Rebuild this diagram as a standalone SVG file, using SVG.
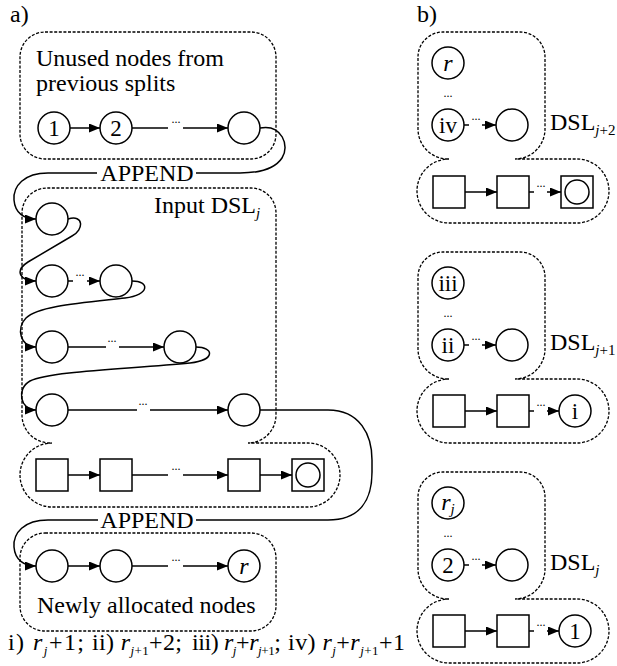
<svg xmlns="http://www.w3.org/2000/svg" width="617" height="666" viewBox="0 0 617 666">
<defs>
<marker id="arr" markerWidth="11" markerHeight="9" refX="11" refY="4.5" orient="auto" markerUnits="userSpaceOnUse"><path d="M0,0 L11,4.5 L0,9 Z" fill="#000"/></marker>
<style>
.t{font-family:"Liberation Serif","Times New Roman",serif;font-size:24px;fill:#000}
.n{fill:#fff;stroke:#000;stroke-width:1.5}
.box{fill:none;stroke:#000;stroke-width:1.3;stroke-dasharray:3 1.6}
.c{fill:none;stroke:#000;stroke-width:1.5}
.a{marker-end:url(#arr)}
.d{font-family:"Liberation Serif","Times New Roman",serif;font-size:12px;text-anchor:middle}
.m{text-anchor:middle}
.lb{font-size:23px}
.i{font-style:italic}
.s{font-size:15px}
.s2{font-size:13px}
</style>
</defs>
<rect width="617" height="666" fill="#fff"/>

<g id="labels">
<text class="t" x="10" y="22">a)</text>
<text class="t" x="417" y="22">b)</text>
</g>

<g id="box-unused">
<rect class="box" x="20" y="32" width="256" height="127" rx="25"/>
<text class="t" x="36" y="66">Unused nodes from</text>
<text class="t" x="36" y="91">previous splits</text>
</g>
<g id="box-input">
<path class="box" d="M50,443 A28,28 0 0 1 22,415 V213 A25,25 0 0 1 47,188 H251 A25,25 0 0 1 276,213 V415 A28,28 0 0 1 248,443 H308 A32,32 0 0 1 340,475 A32,32 0 0 1 308,507 H52 A32,32 0 0 1 20,475 A32,32 0 0 1 52,443 Z"/>
<text class="t" x="154" y="213">Input DSL<tspan class="i s" dy="5">j</tspan></text>
</g>
<g id="box-new">
<rect class="box" x="20" y="533" width="256" height="98" rx="25"/>
<text class="t" x="37" y="613">Newly allocated nodes</text>
</g>
<g id="box-dsl-j2">
<path class="box" d="M448,159 A30,30 0 0 1 418,129 V57 A25,25 0 0 1 443,32 H520 A25,25 0 0 1 545,57 V129 A30,30 0 0 1 515,159 H577 A32,32 0 0 1 609,191 A32,32 0 0 1 577,223 H449 A32,32 0 0 1 417,191 A32,32 0 0 1 449,159 Z"/>
<text class="t" x="550" y="130">DSL<tspan class="s" dy="5"><tspan class="i">j</tspan>+2</tspan></text>
</g>
<g id="box-dsl-j1">
<path class="box" transform="translate(0,220)" d="M448,159 A30,30 0 0 1 418,129 V57 A25,25 0 0 1 443,32 H520 A25,25 0 0 1 545,57 V129 A30,30 0 0 1 515,159 H577 A32,32 0 0 1 609,191 A32,32 0 0 1 577,223 H449 A32,32 0 0 1 417,191 A32,32 0 0 1 449,159 Z"/>
<text class="t" x="550" y="350">DSL<tspan class="s" dy="5"><tspan class="i">j</tspan>+1</tspan></text>
</g>
<g id="box-dsl-j">
<path class="box" transform="translate(0,440)" d="M448,159 A30,30 0 0 1 418,129 V57 A25,25 0 0 1 443,32 H520 A25,25 0 0 1 545,57 V129 A30,30 0 0 1 515,159 H577 A32,32 0 0 1 609,191 A32,32 0 0 1 577,223 H449 A32,32 0 0 1 417,191 A32,32 0 0 1 449,159 Z"/>
<text class="t" x="550" y="570">DSL<tspan class="i s" dy="5">j</tspan></text>
</g>

<g id="connectors">
<path class="c a" d="M70,128 H100"/>
<path class="c" d="M132,128 H168"/>
<path class="c a" d="M183,128 H228"/>
<path class="c" d="M260,128 C282,124 290,146 282,158 C274,170 258,173 240,173 H196"/>
<path class="c a" d="M97,173 H48 C24,173 13,186 14,200 C15,213 24,219 36,219"/>
<path class="c a" d="M68,219 C84,214 84,230 72,236 L28,262 C14,271 20,281 36,281"/>
<path class="c" d="M68,281 H73"/>
<path class="c a" d="M87,281 H100"/>
<path class="c a" d="M132,281 C150,281 150,295 125,298 C80,303 38,306 26,318 C16,328 20,347 36,347"/>
<path class="c" d="M68,347 H106"/>
<path class="c a" d="M119,347 H164"/>
<path class="c a" d="M196,347 C214,347 216,360 190,363 C130,369 50,371 30,381 C16,389 20,410 36,410"/>
<path class="c" d="M68,410 H137"/>
<path class="c a" d="M150,410 H228"/>
<path class="c" d="M260,410 H328 C360,410 372,435 372,460 V472 C372,500 360,520 328,520 H196"/>
<path class="c a" d="M98,520 H48 C24,520 13,533 14,547 C15,560 24,566 36,566"/>
<path class="c a" d="M68,475 H100"/>
<path class="c" d="M132,475 H168"/>
<path class="c a" d="M183,475 H228"/>
<path class="c a" d="M260,475 H292"/>
<path class="c a" d="M68,566 H100"/>
<path class="c" d="M132,566 H168"/>
<path class="c a" d="M183,566 H228"/>
<path class="c" d="M464,125 H469"/>
<path class="c a" d="M482,125 H496"/>
<path class="c a" d="M465,192 H497"/>
<path class="c" d="M529,192 H534"/>
<path class="c a" d="M547,192 H561"/>
<path class="c" d="M464,345 H469"/>
<path class="c a" d="M482,345 H496"/>
<path class="c a" d="M465,411 H497"/>
<path class="c" d="M529,411 H534"/>
<path class="c a" d="M547,411 H559"/>
<path class="c" d="M464,565 H469"/>
<path class="c a" d="M482,565 H496"/>
<path class="c a" d="M465,631 H497"/>
<path class="c" d="M529,631 H534"/>
<path class="c a" d="M547,631 H559"/>
<text class="t m" x="147" y="181">APPEND</text>
<text class="t m" x="147" y="528">APPEND</text>
<text class="d" x="176" y="123">...</text>
<text class="d" x="80" y="276">...</text>
<text class="d" x="112" y="342">...</text>
<text class="d" x="143" y="405">...</text>
<text class="d" x="176" y="470">...</text>
<text class="d" x="176" y="561">...</text>
<text class="d" x="476" y="120">...</text>
<text class="d" x="541" y="187">...</text>
<text class="d" x="476" y="340">...</text>
<text class="d" x="541" y="406">...</text>
<text class="d" x="476" y="560">...</text>
<text class="d" x="541" y="626">...</text>
<text class="d" x="448" y="97">...</text>
<text class="d" x="448" y="317">...</text>
<text class="d" x="448" y="537">...</text>
</g>

<g id="a-u1"><circle class="n" cx="54" cy="128" r="16"/><text class="t lb m" x="54" y="136">1</text></g>
<g id="a-u2"><circle class="n" cx="116" cy="128" r="16"/><text class="t lb m" x="116" y="136">2</text></g>
<g id="a-u3"><circle class="n" cx="244" cy="128" r="16"/></g>
<g id="a-b1"><circle class="n" cx="52" cy="219" r="16"/></g>
<g id="a-b2a"><circle class="n" cx="52" cy="281" r="16"/></g>
<g id="a-b2b"><circle class="n" cx="116" cy="281" r="16"/></g>
<g id="a-b3a"><circle class="n" cx="52" cy="347" r="16"/></g>
<g id="a-b3b"><circle class="n" cx="180" cy="347" r="16"/></g>
<g id="a-b4a"><circle class="n" cx="52" cy="410" r="16"/></g>
<g id="a-b4b"><circle class="n" cx="244" cy="410" r="16"/></g>
<g id="a-s1"><rect class="n" x="36" y="459" width="32" height="32"/></g>
<g id="a-s2"><rect class="n" x="100" y="459" width="32" height="32"/></g>
<g id="a-s3"><rect class="n" x="228" y="459" width="32" height="32"/></g>
<g id="a-s4"><rect class="n" x="292" y="459" width="32" height="32"/><circle class="n" cx="308" cy="475" r="12"/></g>
<g id="a-n1"><circle class="n" cx="52" cy="566" r="16"/></g>
<g id="a-n2"><circle class="n" cx="116" cy="566" r="16"/></g>
<g id="a-n3"><circle class="n" cx="244" cy="566" r="16"/><text class="t m i" x="244" y="574">r</text></g>

<g id="b1-r"><circle class="n" cx="448" cy="63" r="16"/><text class="t m i" x="448" y="71">r</text></g>
<g id="b1-iv"><circle class="n" cx="448" cy="125" r="16"/><text class="t lb m" x="448" y="133">iv</text></g>
<g id="b1-c"><circle class="n" cx="512" cy="125" r="16"/></g>
<g id="b1-s1"><rect class="n" x="433" y="176" width="32" height="32"/></g>
<g id="b1-s2"><rect class="n" x="497" y="176" width="32" height="32"/></g>
<g id="b1-s3"><rect class="n" x="561" y="176" width="32" height="32"/><circle class="n" cx="577" cy="192" r="12"/></g>

<g id="b2-iii"><circle class="n" cx="448" cy="283" r="16"/><text class="t lb m" x="448" y="291">iii</text></g>
<g id="b2-ii"><circle class="n" cx="448" cy="345" r="16"/><text class="t lb m" x="448" y="353">ii</text></g>
<g id="b2-c"><circle class="n" cx="512" cy="345" r="16"/></g>
<g id="b2-s1"><rect class="n" x="433" y="395" width="32" height="32"/></g>
<g id="b2-s2"><rect class="n" x="497" y="395" width="32" height="32"/></g>
<g id="b2-i"><circle class="n" cx="575" cy="411" r="16"/><text class="t lb m" x="575" y="419">i</text></g>

<g id="b3-rj"><circle class="n" cx="448" cy="503" r="16"/><text class="t m" x="448" y="510"><tspan class="i">r</tspan><tspan class="i s" dy="4">j</tspan></text></g>
<g id="b3-2"><circle class="n" cx="448" cy="565" r="16"/><text class="t lb m" x="448" y="573">2</text></g>
<g id="b3-c"><circle class="n" cx="512" cy="565" r="16"/></g>
<g id="b3-s1"><rect class="n" x="433" y="615" width="32" height="32"/></g>
<g id="b3-s2"><rect class="n" x="497" y="615" width="32" height="32"/></g>
<g id="b3-1"><circle class="n" cx="575" cy="631" r="16"/><text class="t lb m" x="575" y="639">1</text></g>

<g id="legend">
<text class="t" x="8" y="650" textLength="76" lengthAdjust="spacing">i) <tspan class="i">r</tspan><tspan class="i s2" dy="5">j</tspan><tspan dy="-5">+1;</tspan></text>
<text class="t" x="92" y="650" textLength="90" lengthAdjust="spacing">ii) <tspan class="i">r</tspan><tspan class="s2" dy="5"><tspan class="i">j</tspan>+1</tspan><tspan dy="-5">+2;</tspan></text>
<text class="t" x="192" y="650" textLength="89" lengthAdjust="spacing">iii) <tspan class="i">r</tspan><tspan class="i s2" dy="5">j</tspan><tspan dy="-5">+</tspan><tspan class="i">r</tspan><tspan class="s2" dy="5"><tspan class="i">j</tspan>+1</tspan><tspan dy="-5">;</tspan></text>
<text class="t" x="288" y="650" textLength="117" lengthAdjust="spacing">iv) <tspan class="i">r</tspan><tspan class="i s2" dy="5">j</tspan><tspan dy="-5">+</tspan><tspan class="i">r</tspan><tspan class="s2" dy="5"><tspan class="i">j</tspan>+1</tspan><tspan dy="-5">+1</tspan></text>
</g>
</svg>
